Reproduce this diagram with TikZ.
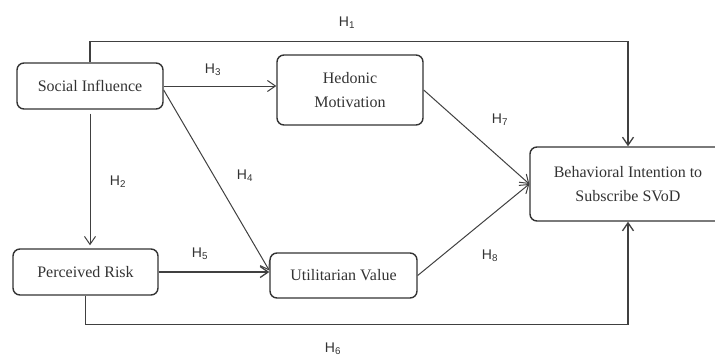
\documentclass[tikz,border=0pt]{standalone}
\usepackage{fontspec}
\setmainfont{Liberation Serif}
\newfontfamily\hfont{Liberation Sans}
\usetikzlibrary{arrows.meta}
\begin{document}
\begin{tikzpicture}[x=1pt,y=-1pt,line cap=butt,line join=miter,
	>={Straight Barb[length=8pt,width=11pt]},
	construct/.style={draw=black!80,line width=1.4pt,rounded corners=7pt,
		align=center,inner sep=0pt,text=black!80,
		font=\fontsize{16}{24}\selectfont},
	hyp/.style={text=black!80,font=\hfont\fontsize{14}{16}\selectfont},
	link/.style={draw=black!75,line width=1pt,->}]
	\useasboundingbox (0,0) rectangle (715,356);
	% constructs
	\node[construct,minimum width=146pt,minimum height=46pt] (si) at (90,86) {Social Influence};
	\node[construct,minimum width=146pt,minimum height=70pt] (hm) at (350,90) {Hedonic\\Motivation};
	\node[construct,minimum width=145pt,minimum height=46pt] (pr) at (85.5,272) {Perceived Risk};
	\node[construct,minimum width=147pt,minimum height=45pt] (uv) at (343.5,275.5) {Utilitarian Value};
	\node[construct,minimum width=196pt,minimum height=74pt] (bi) at (628,184) {Behavioral Intention to\\Subscribe SVoD};
	% paths
	\draw[link,line width=1.3pt] (si.north) -- ++(0,-21) -| (bi.north);
	\draw[link,shorten <=4pt,shorten >=3pt] (si.south) -- (si.south |- pr.north);
	\draw[link] (si.east) -- (si.east -| hm.west);
	\draw[link] ([yshift=-4pt]si.east) -- ([yshift=5pt]uv.west);
	\draw[link,line width=1.3pt] (pr.east) -- (pr.east -| uv.west);
	\draw[link,line width=1.3pt] (pr.south) -- ++(0,29) -| (bi.south);
	\draw[link] (hm.east) -- (bi.west);
	\draw[link] (uv.east) -- (bi.west);
	% hypotheses
	\node[hyp] (h1) at (347,23) {H\textsubscript{1}};
	\node[hyp] (h2) at (118,182) {H\textsubscript{2}};
	\node[hyp] (h3) at (213,70) {H\textsubscript{3}};
	\node[hyp] (h4) at (245,176) {H\textsubscript{4}};
	\node[hyp] (h5) at (200,254) {H\textsubscript{5}};
	\node[hyp] (h6) at (333,349) {H\textsubscript{6}};
	\node[hyp] (h7) at (500,120) {H\textsubscript{7}};
	\node[hyp] (h8) at (490,256) {H\textsubscript{8}};
\end{tikzpicture}
\end{document}
